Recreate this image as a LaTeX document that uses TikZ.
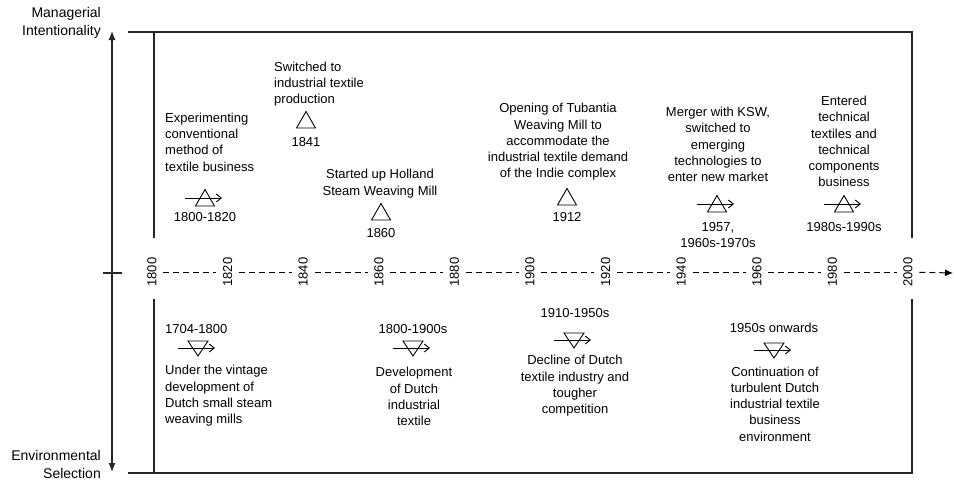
\documentclass[tikz,border=0pt]{standalone}
\usepackage{fontspec}
\setmainfont{Liberation Sans}
\usetikzlibrary{arrows.meta}
\begin{document}
\begin{tikzpicture}[x=1pt,y=-1pt,
  lbl/.style={inner sep=0pt,font=\fontsize{13}{16.3}\selectfont},
  sidelbl/.style={inner sep=0pt,font=\fontsize{14}{18}\selectfont,anchor=east,align=right},
  yrlbl/.style={lbl,rotate=90,inner xsep=0pt,inner ysep=6.5pt},
  frame/.style={line width=1.1pt,draw=black!85},
  axisline/.style={line width=1.2pt,draw=black!85},
  tl/.style={line width=1pt,dash pattern=on 6pt off 4pt},
  sym/.style={line width=0.9pt},
  pics/triup/.style={code={\draw[sym] (-9.5,8) -- (9.5,8) -- (0,-8.5) -- cycle;}},
  pics/tridn/.style={code={\draw[sym] (-10,-7) -- (10,-7) -- (0,8) -- cycle;}},
  pics/arr/.style={code={\draw[sym,-{Straight Barb[length=5pt,width=8pt]}] (-20,0) -- (17,0);}}
]
\useasboundingbox (0,0) rectangle (954,480);

% frame
\draw[frame] (128,32) -- (912,32) -- (912,238);
\draw[frame] (154,32) -- (154,238);
\draw[frame] (154,299) -- (154,473);
\draw[frame] (128,473) -- (912,473) -- (912,299);

% left axis
\coordinate (axtop) at (112,31);
\coordinate (axbot) at (112,472);
\coordinate (tickl) at (103,273);
\coordinate (tickr) at (122,273);
\draw[axisline,{Latex[length=9pt,width=7pt]}-{Latex[length=9pt,width=7pt]}] (axbot) -- (axtop);
\draw[axisline] (tickl) -- (tickr);

\node[sidelbl] (mi) at (101,23) {Managerial\\Intentionality};
\node[sidelbl] (es) at (101,464.5) {Environmental\\Selection};

% timeline
\foreach \i in {0,...,10}{
  \pgfmathtruncatemacro\yr{1800+20*\i}
  \node[yrlbl] (y\yr) at ({152+75.6*\i},272) {\yr};
}
\foreach \a/\b in {1800/1820,1820/1840,1840/1860,1860/1880,1880/1900,1900/1920,1920/1940,1940/1960,1960/1980,1980/2000}{
  \draw[tl] (y\a) -- (y\b);
}
\coordinate (tlend) at (953,273);
\draw[tl,-{Latex[length=8pt,width=7pt]}] (y2000) -- (tlend);

% top events
\node[lbl,anchor=west,align=left] (e1) at (165,142) {Experimenting\\conventional\\method of\\textile business};
\pic at (205,198) {triup}; \pic at (205,198) {arr};
\node[lbl] (d1) at (205,217) {1800-1820};

\node[lbl,anchor=west,align=left] (e2) at (274,84) {Switched to\\industrial textile\\production};
\pic at (306,120) {triup};
\node[lbl] (d2) at (306,142) {1841};

\node[lbl,align=center] (e3) at (380,183.5) {Started up Holland\\Steam Weaving Mill};
\pic at (381,212) {triup};
\node[lbl] (d3) at (381,233) {1860};

\node[lbl,align=center] (e4) at (558,142) {Opening of Tubantia\\Weaving Mill to\\accommodate the\\industrial textile demand\\of the Indie complex};
\pic at (567,197) {triup};
\node[lbl] (d4) at (567,217) {1912};

\node[lbl,align=center] (e5) at (718,144.5) {Merger with KSW,\\switched to\\emerging\\technologies to\\enter new market};
\pic at (717,204) {triup}; \pic at (717,204) {arr};
\node[lbl,align=center] (d5) at (718,235) {1957,\\1960s-1970s};

\node[lbl,align=center] (e6) at (844,141.5) {Entered\\technical\\textiles and\\technical\\components\\business};
\pic at (844,204) {triup}; \pic at (844,204) {arr};
\node[lbl] (d6) at (844,227) {1980s-1990s};

% bottom events
\node[lbl,anchor=west] (b1d) at (165,329) {1704-1800};
\pic at (198,348) {tridn}; \pic at (198,348) {arr};
\node[lbl,anchor=west,align=left] (b1) at (165,396) {Under the vintage\\development of\\Dutch small steam\\weaving mills};

\node[lbl] (b2d) at (413,329) {1800-1900s};
\pic at (413,348) {tridn}; \pic at (413,348) {arr};
\node[lbl,align=center] (b2) at (414,396.5) {Development\\of Dutch\\industrial\\textile};

\node[lbl] (b3d) at (575,313) {1910-1950s};
\pic at (574,340) {tridn}; \pic at (574,340) {arr};
\node[lbl,align=center] (b3) at (575,386) {Decline of Dutch\\textile industry and\\tougher\\competition};

\node[lbl] (b4d) at (774,328) {1950s onwards};
\pic at (774,350) {tridn}; \pic at (774,350) {arr};
\node[lbl,align=center] (b4) at (775,404) {Continuation of\\turbulent Dutch\\industrial textile\\business\\environment};
\end{tikzpicture}
\end{document}
